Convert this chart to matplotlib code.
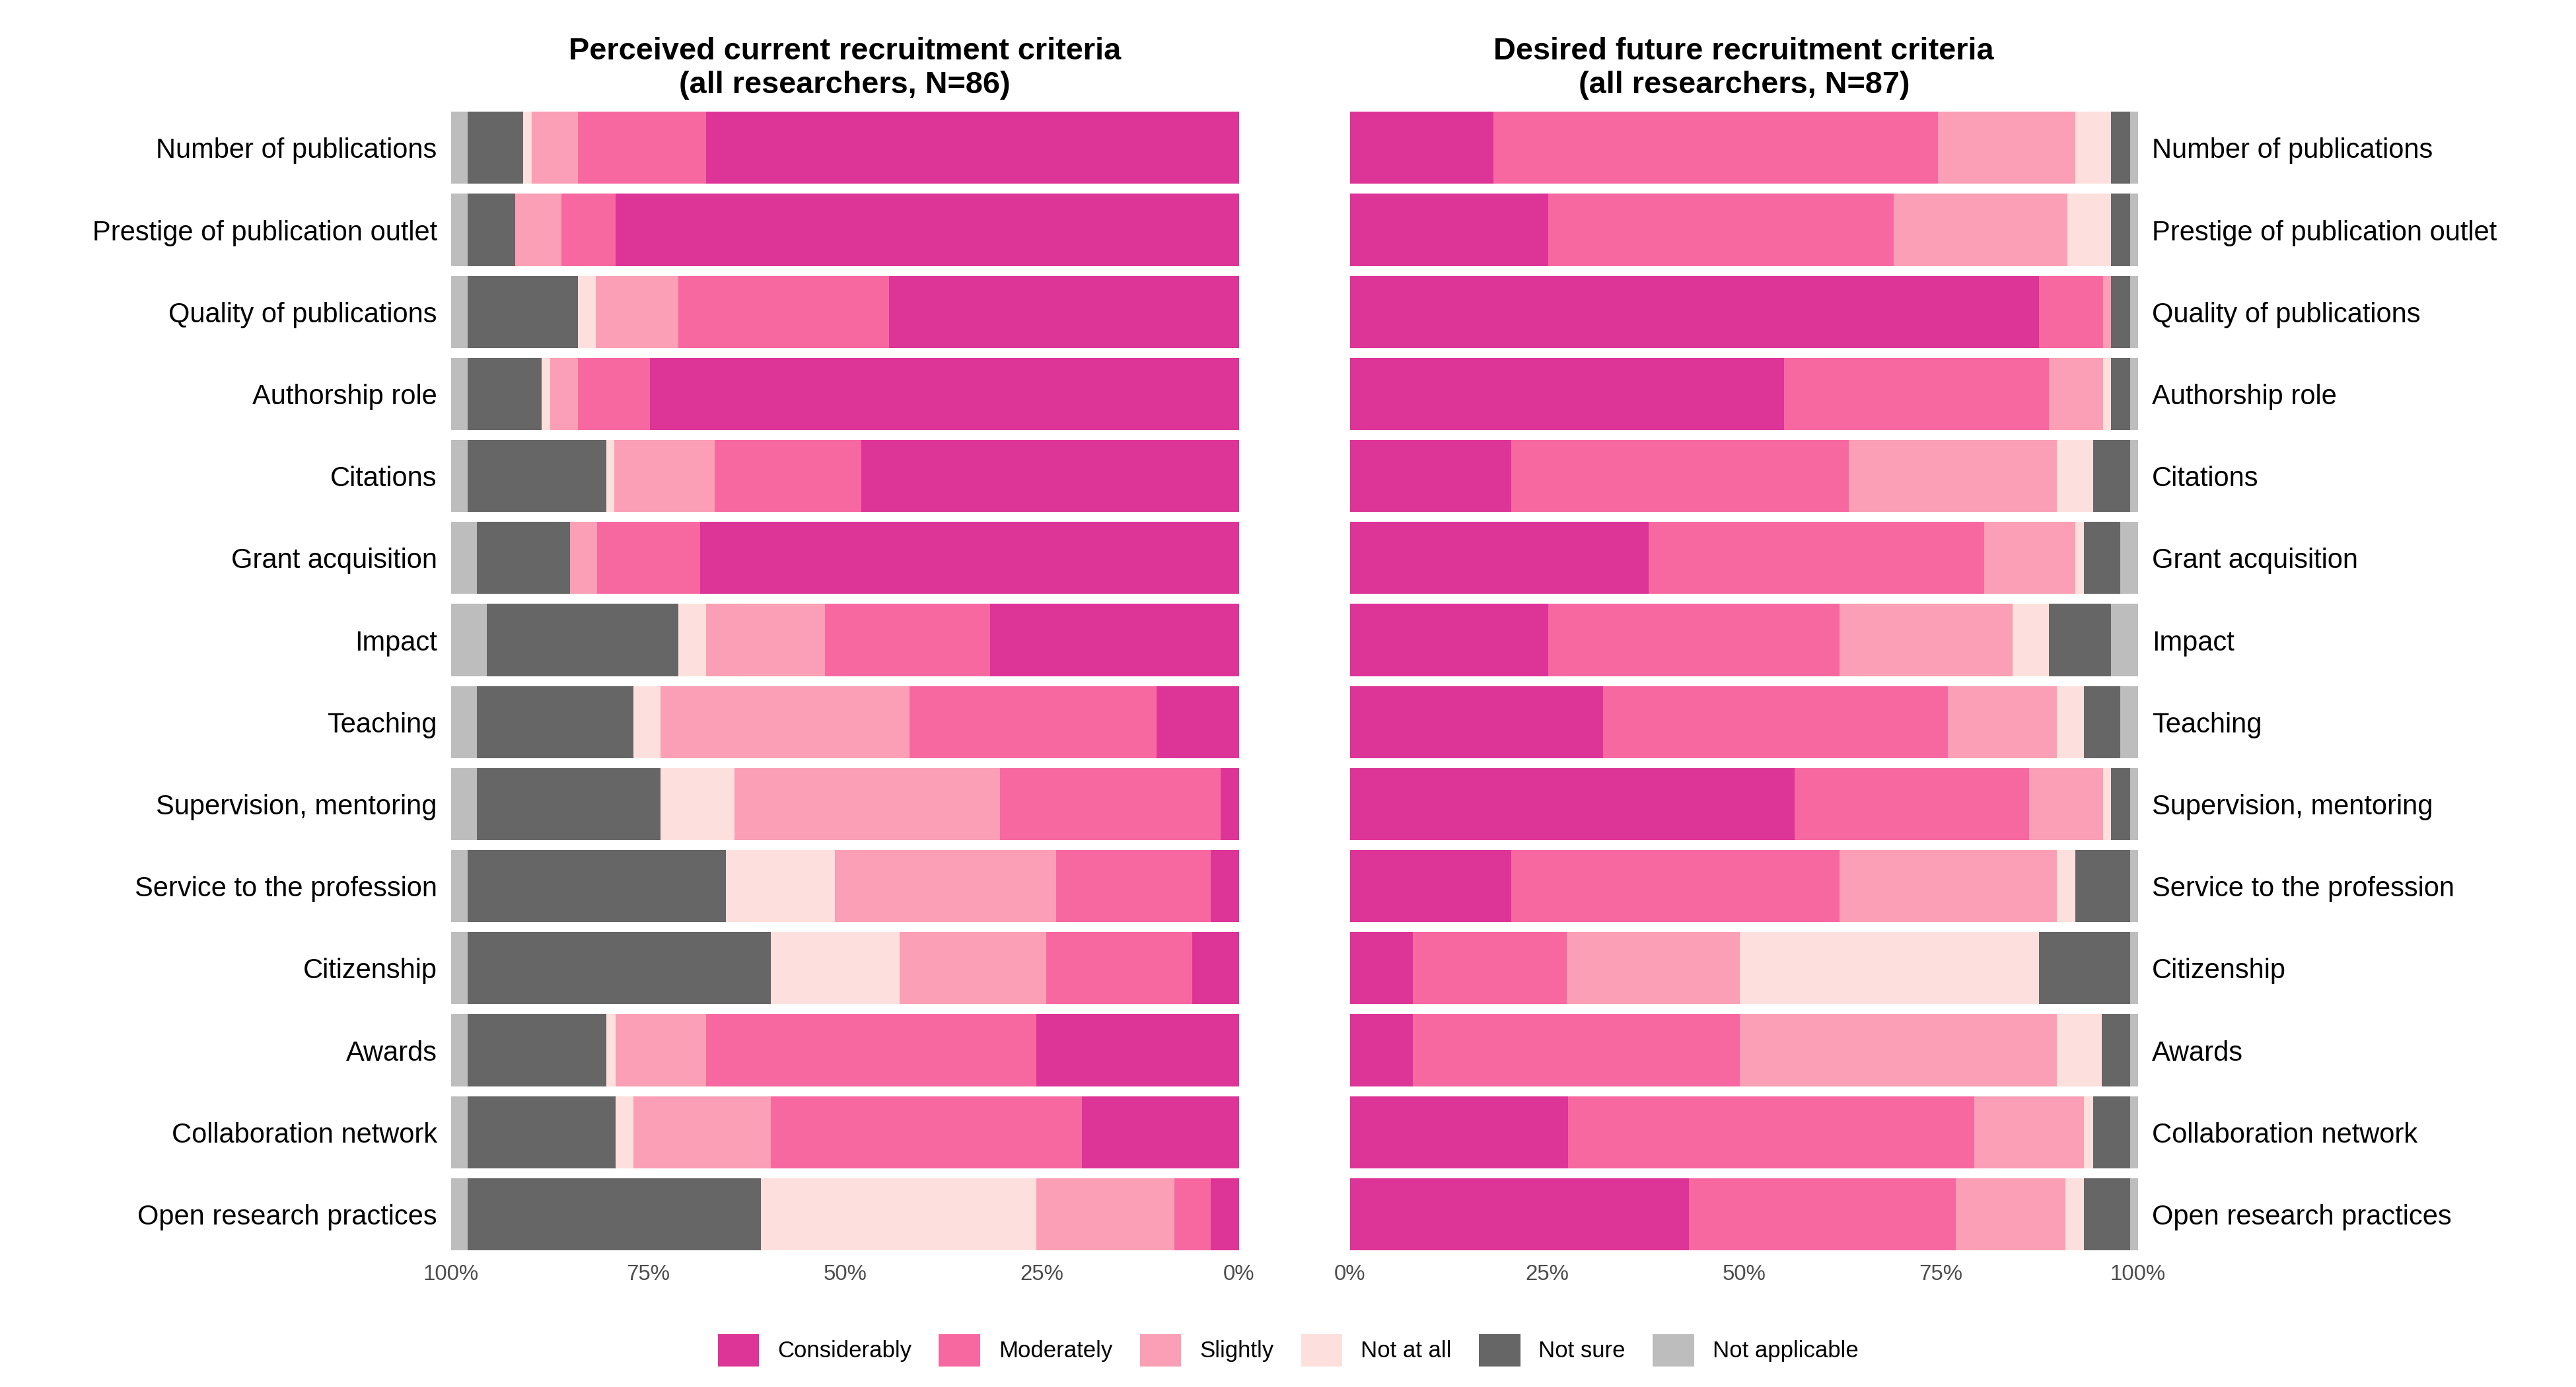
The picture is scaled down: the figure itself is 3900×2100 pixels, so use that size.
import numpy as np
import matplotlib.pyplot as plt
from matplotlib.patches import Patch

criteria = ["Number of publications", "Prestige of publication outlet", "Quality of publications",
            "Authorship role", "Citations", "Grant acquisition", "Impact", "Teaching",
            "Supervision, mentoring", "Service to the profession", "Citizenship", "Awards",
            "Collaboration network", "Open research practices"]
levels = ["Considerably", "Moderately", "Slightly", "Not at all", "Not sure", "Not applicable"]
colors = ["#DD3497", "#F768A1", "#FA9FB5", "#FDE0DD", "#666666", "#BDBDBD"]

# percentages per criterion, columns follow `levels`
current = np.array([
    [67.6, 16.3, 5.8, 1.1, 7.1, 2.1],
    [79.1, 6.9, 5.8, 0.0, 6.1, 2.1],
    [44.4, 26.7, 10.5, 2.3, 14.0, 2.1],
    [74.7, 9.2, 3.5, 1.1, 9.4, 2.1],
    [47.9, 18.6, 12.8, 1.0, 17.6, 2.1],
    [68.4, 13.0, 3.5, 0.0, 11.8, 3.3],
    [31.6, 20.9, 15.1, 3.5, 24.3, 4.6],
    [10.5, 31.3, 31.6, 3.4, 19.9, 3.3],
    [2.3, 28.0, 33.7, 9.4, 23.3, 3.3],
    [3.6, 19.6, 28.1, 13.8, 32.8, 2.1],
    [5.9, 18.6, 18.6, 16.3, 38.5, 2.1],
    [25.7, 41.9, 11.5, 1.2, 17.6, 2.1],
    [19.9, 39.5, 17.4, 2.3, 18.8, 2.1],
    [3.6, 4.6, 17.5, 35.0, 37.2, 2.1],
])
desired = np.array([
    [18.2, 56.4, 17.4, 4.6, 2.4, 1.0],
    [25.2, 43.8, 22.0, 5.6, 2.4, 1.0],
    [87.4, 8.2, 1.0, 0.0, 2.4, 1.0],
    [55.1, 33.6, 6.9, 1.0, 2.4, 1.0],
    [20.5, 42.8, 26.4, 4.6, 4.7, 1.0],
    [37.9, 42.6, 11.5, 1.1, 4.6, 2.3],
    [25.2, 36.9, 22.0, 4.6, 7.9, 3.4],
    [32.1, 43.8, 13.8, 3.4, 4.6, 2.3],
    [56.4, 29.8, 9.4, 1.0, 2.4, 1.0],
    [20.5, 41.6, 27.6, 2.3, 7.0, 1.0],
    [8.0, 19.5, 22.0, 37.9, 11.6, 1.0],
    [8.0, 41.5, 40.2, 5.7, 3.6, 1.0],
    [27.7, 51.5, 13.9, 1.2, 4.7, 1.0],
    [43.0, 33.9, 13.9, 2.3, 5.9, 1.0],
])

plt.rcParams['font.family'] = ['Liberation Sans', 'DejaVu Sans']
fig = plt.figure(figsize=(15.6, 8.4), dpi=250)
axL = fig.add_axes([0.175, 0.095, 0.306, 0.828])
axR = fig.add_axes([0.524, 0.095, 0.306, 0.828])

y = np.arange(len(criteria))
for ax, data, title in [(axL, current, "Perceived current recruitment criteria\n(all researchers, N=86)"),
                        (axR, desired, "Desired future recruitment criteria\n(all researchers, N=87)")]:
    data = data / data.sum(axis=1, keepdims=True) * 100
    left = np.zeros(len(criteria))
    for j, lev in enumerate(levels):
        ax.barh(y, data[:, j], left=left, height=0.88, color=colors[j], zorder=2)
        left += data[:, j]
    ax.set_ylim(len(criteria) - 0.5, -0.5)
    ax.set_xlim(0, 100)
    ax.set_xticks([0, 25, 50, 75, 100])
    ax.set_xticklabels(["0%", "25%", "50%", "75%", "100%"])
    ax.set_yticks(y)
    ax.set_yticklabels(criteria, fontsize=12)
    ax.grid(axis='y', color='#EBEBEB', linewidth=1, zorder=0)
    ax.tick_params(axis='x', colors='#4D4D4D', labelsize=9.5, length=0, pad=4)
    ax.tick_params(axis='y', length=0, pad=6)
    for s in ax.spines.values():
        s.set_visible(False)
    ax.set_title(title, fontsize=13.5, fontweight='bold', pad=6)

axL.invert_xaxis()
axR.yaxis.tick_right()

handles = [Patch(facecolor=c, label=l) for c, l in zip(colors, levels)]
fig.legend(handles=handles, loc='lower center', ncol=6, frameon=False, fontsize=10,
           bbox_to_anchor=(0.5, 0.0), handlelength=1.8, handleheight=1.8, columnspacing=1.2)
fig.savefig("out.png")
